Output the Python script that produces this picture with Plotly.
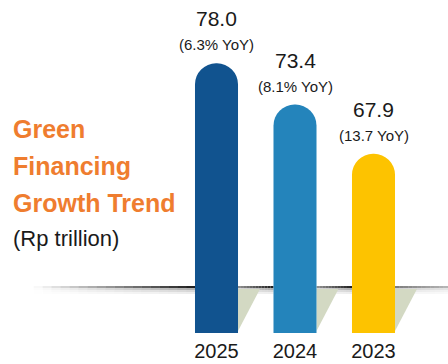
import plotly.graph_objects as go

# Green financing outstanding, Rp trillion
years = ["2025", "2024", "2023"]
values = [78.0, 73.4, 67.9]
growth_labels = ["(6.3% YoY)", "(8.1% YoY)", "(13.7 YoY)"]
bar_colors = ["#11538f", "#2484bb", "#fdc300"]

FONT = "Liberation Sans, Arial, sans-serif"
ORANGE = "#ef7d2f"
INK = "#1a1a1a"

x_pos = list(range(len(years)))
bar_w = 0.548

fig = go.Figure(
    go.Bar(
        x=x_pos,
        y=values,
        width=bar_w,
        marker=dict(color=bar_colors, cornerradius="50%", line=dict(width=0)),
        hoverinfo="skip",
    )
)

H = 364.0
y_shelf = 1 - 287 / H
shapes = []


def shelf_run(a, b, op_a, op_b, n=12):
    """Shelf edge from a to b with opacity ramping op_a -> op_b and a soft drop shadow."""
    for k in range(n):
        x0 = a + (b - a) * k / n
        x1 = a + (b - a) * (k + 1) / n
        op = op_a + (op_b - op_a) * (k + 0.5) / n
        shapes.append(dict(type="line", xref="x", yref="paper", layer="below",
                           x0=x0, x1=x1, y0=y_shelf, y1=y_shelf,
                           line=dict(color="rgba(15,15,15,%.3f)" % op, width=2)))
        for d, o in [(2, 0.40), (4, 0.20), (6, 0.09)]:
            shapes.append(dict(type="line", xref="x", yref="paper", layer="below",
                               x0=x0, x1=x1, y0=y_shelf - d / H, y1=y_shelf - d / H,
                               line=dict(color="rgba(40,40,40,%.3f)" % (o * op), width=2)))


half = bar_w / 2
shelf_run(-2.33, -half, 0.0, 0.95, n=18)
shelf_run(half, 1 - half, 0.45, 0.95)
shelf_run(1 + half, 2 - half, 0.45, 0.95)
shelf_run(2 + half, 2.95, 0.55, 0.30)

# slanted floor shadow behind each bar
y_floor = 1 - 331 / H
for i in x_pos:
    r = i + half
    shapes.append(dict(type="path", xref="x", yref="paper", layer="below",
                       path="M %f,%f L %f,%f L %f,%f Z" % (r, y_shelf - 2 / H,
                                                         r + 0.28, y_shelf - 2 / H,
                                                         r, y_floor),
                       fillcolor="#d3d9c3", line=dict(width=0)))

annotations = []
for i, (v, g) in enumerate(zip(values, growth_labels)):
    annotations.append(dict(x=i, y=v, xref="x", yref="y", text=g, showarrow=False,
                            yanchor="bottom", yshift=8,
                            font=dict(family=FONT, size=15, color=INK)))
    annotations.append(dict(x=i, y=v, xref="x", yref="y", text="%.1f" % v, showarrow=False,
                            yanchor="bottom", yshift=31,
                            font=dict(family=FONT, size=21, color=INK)))

title_lines = [("Green", 129), ("Financing", 166), ("Growth Trend", 203)]
for t, yc in title_lines:
    annotations.append(dict(x=11 / 448, y=1 - yc / H, xref="paper", yref="paper",
                            text="<b>%s</b>" % t, showarrow=False,
                            xanchor="left", yanchor="middle",
                            font=dict(family=FONT, size=25, color=ORANGE)))
annotations.append(dict(x=11 / 448, y=1 - 238 / H, xref="paper", yref="paper",
                        text="(Rp trillion)", showarrow=False,
                        xanchor="left", yanchor="middle",
                        font=dict(family=FONT, size=22, color=INK)))

fig.update_layout(
    width=448, height=364,
    margin=dict(l=0, r=0, t=0, b=0, autoexpand=False),
    paper_bgcolor="white", plot_bgcolor="rgba(0,0,0,0)",
    showlegend=False,
    shapes=shapes,
    annotations=annotations,
    xaxis=dict(range=[-2.758, 2.949], tickvals=x_pos, ticktext=years,
               showgrid=False, zeroline=False, showline=False, ticks="",
               tickfont=dict(family=FONT, size=20, color=INK),
               ticklabelstandoff=4, automargin=False, fixedrange=True),
    yaxis=dict(domain=[31 / H, 1], range=[47.9, 85.07], visible=False,
               showgrid=False, zeroline=False, automargin=False, fixedrange=True),
)

fig.write_html("out.html")
